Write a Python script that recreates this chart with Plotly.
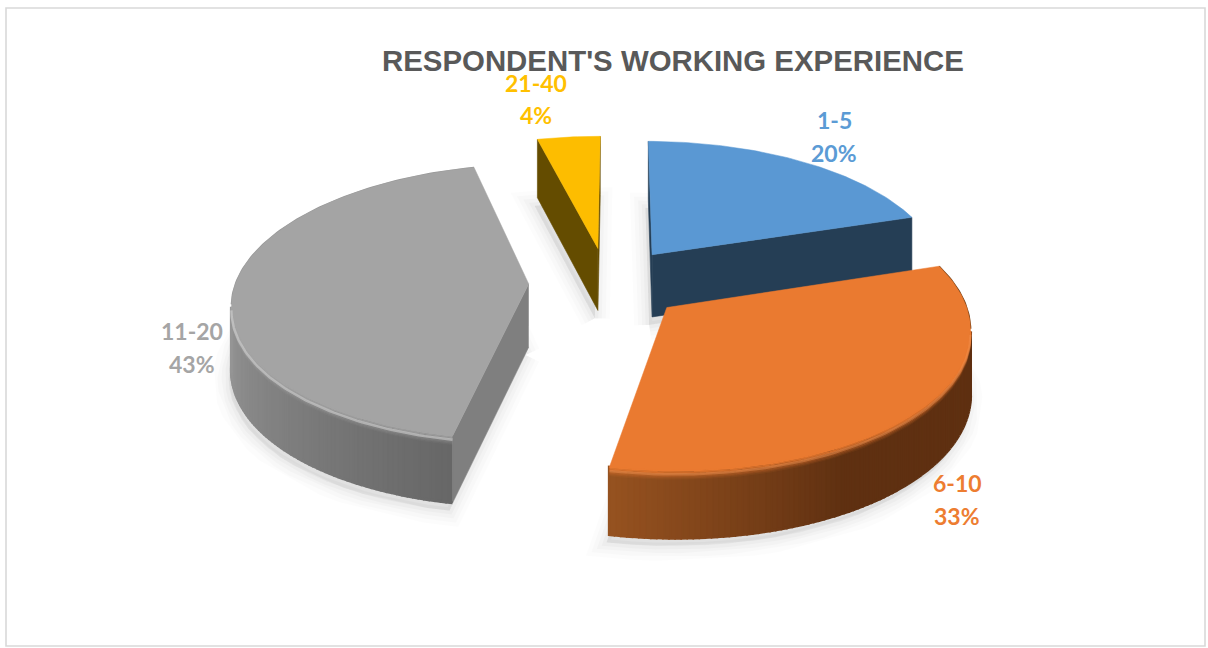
import math
import plotly.graph_objects as go

# Chart data
categories = ["1-5", "6-10", "11-20", "21-40"]
shares = [20, 33, 43, 4]
chart_title = "RESPONDENT'S WORKING EXPERIENCE"

# Slice colours
top_colors = ["#5a98d3", "#ea7a30", "#a4a4a4", "#fdbd00"]
label_colors = ["#5b9bd5", "#ed7d31", "#a5a5a5", "#ffc000"]
cut_colors = ["#253e55", "#5f3011", "#7f7f7f", "#644c00"]
# Shade of the curved wall by clockwise angle
arc_shades = [
    [(0, "#253e55"), (360, "#253e55")],
    [(60, "#5f3011"), (150, "#5f3011"), (191, "#965220")],
    [(190, "#666666"), (265, "#989898"), (350, "#989898")],
    [(0, "#644c00"), (360, "#644c00")],
]
rim_light = [None, "rgba(255,170,110,0.25)", "rgba(225,225,225,0.45)", None]
rim_back = [None, "#6b3a14", "#989898", None]

# Projection of the pie plane on to the page
CX, CY = 607, 283
SCALE_X, SCALE_Y = 293, 135
PERSPECTIVE = 0.13
THICKNESS = 63
EXPLODE = 0.267
BEVEL = 9
START_DEG = 0.3
# Painter's order: slices at the back come first
draw_order = [3, 0, 2, 1]


def project(px, py, z=0.0):
    w = 1 + PERSPECTIVE * py
    return (CX + SCALE_X * px / w, CY - SCALE_Y * py / w + z * (1 - 0.06 * py))


def lerp_hex(a, b, f):
    ca = [int(a[i:i + 2], 16) for i in (1, 3, 5)]
    cb = [int(b[i:i + 2], 16) for i in (1, 3, 5)]
    return "#" + "".join(f"{round(p + (q - p) * f):02x}" for p, q in zip(ca, cb))


def shade_at(stops, deg):
    if deg <= stops[0][0]:
        return stops[0][1]
    for (d0, c0), (d1, c1) in zip(stops, stops[1:]):
        if deg <= d1:
            return lerp_hex(c0, c1, (deg - d0) / (d1 - d0))
    return stops[-1][1]


def polygon(pts, color, width=0.6):
    return go.Scatter(
        x=[p[0] for p in pts], y=[p[1] for p in pts],
        mode="lines", fill="toself", fillcolor=color,
        line=dict(color=color, width=width),
        hoverinfo="skip", showlegend=False,
    )


def polyline(pts, color, width):
    return go.Scatter(
        x=[p[0] for p in pts], y=[p[1] for p in pts],
        mode="lines", line=dict(color=color, width=width),
        hoverinfo="skip", showlegend=False,
    )


# Angular span of every slice, clockwise from north
spans = []
running = START_DEG
total = sum(shares)
for share in shares:
    end = running + 360 * share / total
    spans.append((running, end))
    running = end

cam = (0.0, -1 / PERSPECTIVE)
fig = go.Figure()


def apex_of(i):
    a0, a1 = spans[i]
    mid = math.radians((a0 + a1) / 2)
    return EXPLODE * math.sin(mid), EXPLODE * math.cos(mid)


def rim_point(i, deg, r=1.0):
    ax, ay = apex_of(i)
    t = math.radians(deg)
    return ax + r * math.sin(t), ay + r * math.cos(t)


def arc_degs(a0, a1, step=1.0):
    n = max(2, int((a1 - a0) / step))
    return [a0 + (a1 - a0) * k / n for k in range(n + 1)]


# Soft ground shadows
for i in draw_order:
    a0, a1 = spans[i]
    outline = [project(*apex_of(i), THICKNESS)]
    outline += [project(*rim_point(i, d), THICKNESS) for d in arc_degs(a0, a1, 4)]
    outline.append(outline[0])
    for spread, alpha in [(30, 0.010), (22, 0.014), (14, 0.018), (7, 0.022)]:
        shifted = [(x - 3, y + 8) for x, y in outline]
        fig.add_trace(go.Scatter(
            x=[p[0] for p in shifted], y=[p[1] for p in shifted],
            mode="lines", fill="toself", fillcolor=f"rgba(0,0,0,{alpha})",
            line=dict(color=f"rgba(0,0,0,{alpha})", width=spread),
            hoverinfo="skip", showlegend=False,
        ))

for i in draw_order:
    a0, a1 = spans[i]
    ap = apex_of(i)

    # Flat cut faces turned towards the viewer
    for deg, sign in ((a0, 1), (a1, -1)):
        t = math.radians(deg)
        normal = (-sign * math.cos(t), sign * math.sin(t))
        if normal[0] * (cam[0] - ap[0]) + normal[1] * (cam[1] - ap[1]) > 0:
            rp = rim_point(i, deg)
            fig.add_trace(polygon(
                [project(*ap), project(*rp), project(*rp, THICKNESS), project(*ap, THICKNESS)],
                cut_colors[i]))

    # Curved wall, split in narrow strips so the shade changes smoothly along it
    degs = arc_degs(a0, a1)
    visible = []
    hidden = []
    for d in degs:
        t = math.radians(d)
        px, py = rim_point(i, d)
        facing = math.sin(t) * (cam[0] - px) + math.cos(t) * (cam[1] - py)
        (visible if facing > 0 else hidden).append(d)
    for d0, d1 in zip(visible, visible[1:]):
        p0, p1 = rim_point(i, d0), rim_point(i, d1)
        fig.add_trace(polygon(
            [project(*p0), project(*p1), project(*p1, THICKNESS), project(*p0, THICKNESS)],
            shade_at(arc_shades[i], (d0 + d1) / 2), width=3))

    # Back rim edge
    if rim_back[i] and hidden:
        fig.add_trace(polyline([project(*rim_point(i, d)) for d in hidden], rim_back[i], 1.6))

    # Top face
    top = [project(*ap)] + [project(*rim_point(i, d)) for d in degs]
    fig.add_trace(polygon(top + [top[0]], top_colors[i], width=0.5))

    # Bevel: the top colour fades into the wall, with a light edge on it
    if visible:
        rgb = [int(top_colors[i][k:k + 2], 16) for k in (1, 3, 5)]
        steps = 8
        for k in range(steps):
            f = k / (steps - 1)
            pts = [project(*rim_point(i, d), BEVEL * f) for d in visible]
            alpha = (1 - f) ** 1.3
            fig.add_trace(polyline(pts, f"rgba({rgb[0]},{rgb[1]},{rgb[2]},{alpha:.2f})", 1.6))
        if rim_light[i]:
            pts = [project(*rim_point(i, d), 3.5) for d in visible]
            fig.add_trace(polyline(pts, rim_light[i], 2.5))

# Data labels: category on one line, share below it
label_centers = [(834, 120, 153), (957, 483, 516), (192, 331, 364), (536, 83, 115)]
annotations = []
for i, (lx, y1, y2) in enumerate(label_centers):
    for y, text in ((y1, categories[i]), (y2, f"{shares[i]}%")):
        annotations.append(dict(
            x=lx, y=y, xref="x", yref="y", text=text, showarrow=False,
            font=dict(family="Lato", size=23, color=label_colors[i], weight="bold"),
        ))

annotations.append(dict(
    x=672.5, y=60.5, xref="x", yref="y", text=f"<b>{chart_title}</b>", showarrow=False,
    font=dict(family="Liberation Sans", size=29.4, color="#595959"),
))

fig.update_layout(
    width=1208, height=648,
    margin=dict(l=0, r=0, t=0, b=0),
    paper_bgcolor="white", plot_bgcolor="white",
    showlegend=False,
    xaxis=dict(range=[0, 1208], visible=False, fixedrange=True),
    yaxis=dict(range=[648, 0], visible=False, fixedrange=True),
    annotations=annotations,
    shapes=[dict(type="rect", xref="x", yref="y", x0=6, y0=8, x1=1205, y1=646,
                 line=dict(color="#d9d9d9", width=1.6), layer="below")],
)

fig.write_html("out.html", config={"displayModeBar": False})
